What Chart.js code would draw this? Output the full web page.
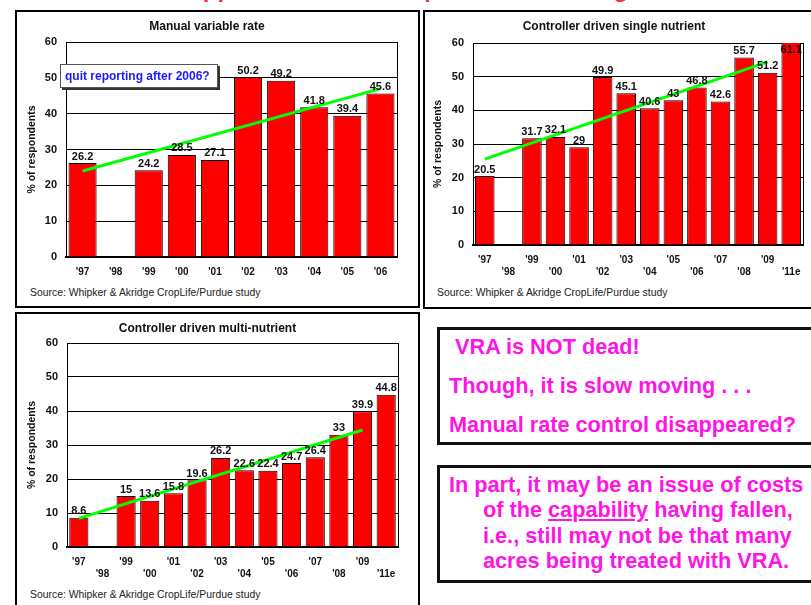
<!DOCTYPE html>
<html>
<head>
<meta charset="utf-8">
<script src="https://cdn.jsdelivr.net/npm/chart.js@4.4.0/dist/chart.umd.min.js"></script>
<style>
body { margin:0; width:811px; height:605px; overflow:hidden; background:#fff; position:relative; font-family:'Liberation Sans', Arial, sans-serif; }
.panel { position:absolute; border:2px solid #000; box-sizing:border-box; }
.box { position:absolute; border:3px solid #111; box-sizing:border-box; }
canvas { position:absolute; }
.src { position:absolute; font-size:10.4px; line-height:12px; color:#222; white-space:nowrap; }
.msg { position:absolute; font-size:21.7px; line-height:22px; font-weight:bold; color:#ff14e6; white-space:nowrap; }
</style>
</head>
<body>
<div style="position:absolute; left:40px; top:-23px; font-size:24px; line-height:24px; font-weight:bold; color:#ff3030; white-space:nowrap;">Variable rate application: % of respondents offering VRA services</div>

<div class="panel" style="left:15px; top:10px; width:405px; height:298px;"></div>
<div class="panel" style="left:423px; top:10px; width:400px; height:299px;"></div>
<div class="panel" style="left:15px; top:312px; width:405px; height:300px;"></div>

<canvas id="manual" width="401" height="270" style="left:17px; top:12px;"></canvas>
<canvas id="single" width="386" height="270" style="left:425px; top:12px;"></canvas>
<canvas id="multi" width="401" height="270" style="left:17px; top:314px;"></canvas>

<div class="src" style="left:30px; top:287px;">Source: Whipker &amp; Akridge CropLife/Purdue study</div>
<div class="src" style="left:437px; top:287px;">Source: Whipker &amp; Akridge CropLife/Purdue study</div>
<div class="src" style="left:30px; top:589px;">Source: Whipker &amp; Akridge CropLife/Purdue study</div>

<div style="position:absolute; left:60px; top:64px; width:158px; height:24px; box-sizing:border-box; border:1px solid #555; box-shadow:2px 2px 0 #333; background:#fff; color:#1a1aff; font-weight:bold; font-size:12px; line-height:22px; padding-left:4px; white-space:nowrap;">quit reporting after 2006?</div>

<div class="box" style="left:437px; top:327px; width:400px; height:118px;"></div>
<div class="box" style="left:437px; top:465px; width:400px; height:118px;"></div>
<div class="msg" style="left:455px; top:336px;">VRA is NOT dead!</div>
<div class="msg" style="left:449px; top:375px;">Though, it is slow moving . . .</div>
<div class="msg" style="left:449px; top:414px;">Manual rate control disappeared?</div>
<div class="msg" style="left:449px; top:474px;">In part, it may be an issue of costs</div>
<div class="msg" style="left:483px; top:499px;">of the <u>capability</u> having fallen,</div>
<div class="msg" style="left:483px; top:525px;">i.e., still may not be that many</div>
<div class="msg" style="left:483px; top:550px;">acres being treated with VRA.</div>

<script>
var years1 = ["'97", "'98", "'99", "'00", "'01", "'02", "'03", "'04", "'05", "'06"]
var manualRate = [26.2, null, 24.2, 28.5, 27.1, 50.2, 49.2, 41.8, 39.4, 45.6]
var manualTrend = [24.0, null, null, null, null, null, null, null, null, 47.0]

var years2 = ["'97", "'98", "'99", "'00", "'01", "'02", "'03", "'04", "'05", "'06", "'07", "'08", "'09", "'11e"]
var singleNutrient = [20.5, null, 31.7, 32.1, 29, 49.9, 45.1, 40.6, 43, 46.8, 42.6, 55.7, 51.2, 61.1]
var singleTrend = [25.5, null, null, null, null, null, null, null, null, null, null, null, 54.4, null]
var multiNutrient = [8.6, null, 15, 13.6, 15.8, 19.6, 26.2, 22.6, 22.4, 24.7, 26.4, 33, 39.9, 44.8]
var multiTrend = [8.4, null, null, null, null, null, null, null, null, null, null, null, 34.4, null]

var yMin = 0
var yMax = 60
var yStep = 10

var fontFamily = "'Liberation Sans', Arial, sans-serif"

// put every second year on a lower row
function stagger(labels) {
    return labels.map(function (l, i) { return i % 2 ? ['', l] : l })
}

var valueLabels = {
    id: 'valueLabels',
    afterDatasetsDraw: function (chart) {
        var ctx = chart.ctx
        var area = chart.chartArea
        var meta = chart.getDatasetMeta(0)
        var data = chart.data.datasets[0].data
        ctx.save()
        ctx.font = 'bold 11px ' + fontFamily
        ctx.fillStyle = '#111'
        ctx.textAlign = 'center'
        meta.data.forEach(function (bar, i) {
            if (data[i] == null) return
            if (bar.y < area.top + 2) {
                ctx.textBaseline = 'top'
                ctx.fillText(String(data[i]), bar.x, area.top + 1)
            } else {
                ctx.textBaseline = 'bottom'
                ctx.fillText(String(data[i]), bar.x, bar.y - 1)
            }
        })
        ctx.restore()
    }
}

var plotBorder = {
    id: 'plotBorder',
    beforeDatasetsDraw: function (chart) {
        var a = chart.chartArea
        var ctx = chart.ctx
        ctx.save()
        ctx.strokeStyle = '#000'
        ctx.lineWidth = 1
        ctx.strokeRect(Math.round(a.left) + 0.5, Math.round(a.top) + 0.5, Math.round(a.right - a.left), Math.round(a.bottom - a.top))
        ctx.restore()
    }
}

function createChart(id, title, labels, values, trend, lay) {
    var ctx = document.getElementById(id).getContext('2d')
    return new Chart(ctx, {
        type: 'bar',
        data: {
            labels: labels,
            datasets: [{
                type: 'bar',
                data: values,
                backgroundColor: '#ff0000',
                borderColor: '#000',
                borderWidth: 1,
                barPercentage: lay.bar,
                categoryPercentage: 1.0,
                order: 1
            }, {
                type: 'line',
                data: trend,
                spanGaps: true,
                borderColor: '#00ff00',
                borderWidth: 3,
                pointRadius: 0,
                fill: false,
                order: 0
            }]
        },
        options: {
            responsive: false,
            animation: false,
            layout: { padding: { left: 0, right: lay.padRight, top: 0, bottom: 0 } },
            plugins: {
                legend: { display: false },
                tooltip: { enabled: false },
                title: {
                    display: true,
                    text: title,
                    color: '#111',
                    font: { family: fontFamily, size: 12, weight: 'bold', lineHeight: 1.2 },
                    padding: { top: 7.5, bottom: lay.titleBottom }
                }
            },
            scales: {
                x: {
                    grid: { display: false, drawTicks: false },
                    border: { display: true, color: '#000', width: 2 },
                    ticks: {
                        autoSkip: false,
                        maxRotation: 0,
                        padding: 8.5,
                        color: '#111',
                        font: { family: fontFamily, size: 10, weight: 'bold', lineHeight: 1.25 }
                    },
                    afterFit: function (s) { s.height = lay.xHeight }
                },
                y: {
                    min: yMin,
                    max: yMax,
                    grid: { color: '#000', lineWidth: 1, drawTicks: false },
                    border: { display: true, color: '#000', width: 1 },
                    ticks: {
                        stepSize: yStep,
                        padding: 9,
                        color: '#111',
                        font: { family: fontFamily, size: 11, weight: 'bold' }
                    },
                    title: {
                        display: true,
                        text: '% of respondents',
                        color: '#111',
                        font: { family: fontFamily, size: 10.5, weight: 'bold', lineHeight: 1.2 },
                        padding: { top: lay.yTitlePad, bottom: 0 }
                    },
                    afterFit: function (s) { s.width = lay.yWidth }
                }
            }
        },
        plugins: [plotBorder, valueLabels]
    })
}

createChart('manual', 'Manual variable rate', years1, manualRate, manualTrend,
    { bar: 0.85, padRight: 21, titleBottom: 8.1, xHeight: 25, yWidth: 49, yTitlePad: 9 })
createChart('single', 'Controller driven single nutrient', stagger(years2), singleNutrient, singleTrend,
    { bar: 0.83, padRight: 8, titleBottom: 9.1, xHeight: 37, yWidth: 48, yTitlePad: 7 })
createChart('multi', 'Controller driven multi-nutrient', stagger(years2), multiNutrient, multiTrend,
    { bar: 0.81, padRight: 20, titleBottom: 7.1, xHeight: 37, yWidth: 50, yTitlePad: 9 })
</script>
</body>
</html>
